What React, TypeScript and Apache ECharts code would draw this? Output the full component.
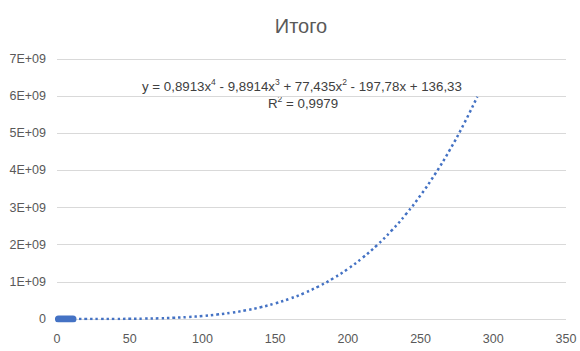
import React, { useEffect, useRef } from "react";
import * as echarts from "echarts";

const title = "Итого";
const dataX = [1, 2, 3, 4, 5, 6, 7, 8, 9, 10, 11];
const dataY = [7, 15, 60, 180, 400, 800, 1500, 2600, 4000, 6000, 9000];
const trendX = [0, 10, 20, 30, 40, 50, 60, 70, 80, 90, 100, 110, 120, 130, 140, 150, 160, 170, 180, 190, 200, 210, 220, 230, 240, 250, 260, 270, 280, 289];
const trendY = [0, 5e3, 9e4, 5.2e5, 1.8e6, 4.5e6, 9.7e6, 1.84e7, 3.19e7, 5.19e7, 8.0e7, 1.183e8, 1.688e8, 2.341e8, 3.168e8, 4.196e8, 5.456e8, 6.981e8, 8.805e8, 1.0965e9, 1.35e9, 1.6452e9, 1.9863e9, 2.3779e9, 2.8248e9, 3.3319e9, 3.9044e9, 4.5477e9, 5.2674e9, 5.985e9];
const yTicks = [0, 1e9, 2e9, 3e9, 4e9, 5e9, 6e9, 7e9];

export default function App() {
  const ref = useRef<HTMLDivElement>(null);
  useEffect(() => {
    document.body.style.margin = "0";
    const chart = echarts.init(ref.current!, null, { renderer: "svg" });
    const font = "Liberation Sans, Arial, sans-serif";
    const rich = {
      n: { fontSize: 13.3, fontFamily: font, fill: "#404040", lineHeight: 16, verticalAlign: "bottom" },
      s: { fontSize: 8.5, fontFamily: font, fill: "#404040", lineHeight: 12, verticalAlign: "top", padding: [0, 0, 4, 0] },
    };
    chart.setOption({
      animation: false,
      backgroundColor: "#ffffff",
      title: {
        text: title,
        left: 296,
        top: 11,
        textAlign: "center",
        textStyle: { fontSize: 20, fontWeight: "normal", color: "#595959", fontFamily: font },
      },
      grid: { left: 57, right: 14, top: 59, bottom: 32, containLabel: false },
      xAxis: {
        type: "value",
        min: 0,
        max: 350,
        interval: 50,
        axisLine: { show: false },
        axisTick: { show: false },
        splitLine: { show: false },
        axisLabel: { color: "#595959", fontSize: 12.5, fontFamily: font, margin: 13 },
      },
      yAxis: {
        type: "value",
        min: yTicks[0],
        max: yTicks[yTicks.length - 1],
        interval: 1e9,
        axisLine: { show: false },
        axisTick: { show: false },
        splitLine: { lineStyle: { color: "#D9D9D9", width: 1 } },
        axisLabel: {
          color: "#595959",
          fontSize: 12.5,
          fontFamily: font,
          margin: 11,
          formatter: (v: number) => (v === 0 ? "0" : `${Math.round(v / 1e9)}E+09`),
        },
      },
      series: [
        {
          type: "line",
          name: "trend",
          data: trendX.map((x, i) => [x, trendY[i]]),
          smooth: true,
          showSymbol: false,
          lineStyle: { color: "#4472C4", width: 2.5, type: [2.5, 3], cap: "butt" },
          z: 2,
        },
        {
          type: "line",
          name: "data",
          data: dataX.map((x, i) => [x, dataY[i]]),
          showSymbol: false,
          lineStyle: { color: "#4472C4", width: 7, cap: "round" },
          z: 3,
        },
      ],
      graphic: [
        {
          type: "text",
          left: 142,
          top: 77,
          style: {
            text: "{n|y = 0,8913x}{s|4}{n| - 9,8914x}{s|3}{n| + 77,435x}{s|2}{n| - 197,78x + 136,33}",
            rich,
          },
        },
        {
          type: "text",
          left: 268,
          top: 94,
          style: {
            text: "{n|R}{s|2}{n| = 0,9979}",
            rich,
          },
        },
      ],
    });
    return () => chart.dispose();
  }, []);
  return <div ref={ref} style={{ width: 580, height: 351 }} />;
}
